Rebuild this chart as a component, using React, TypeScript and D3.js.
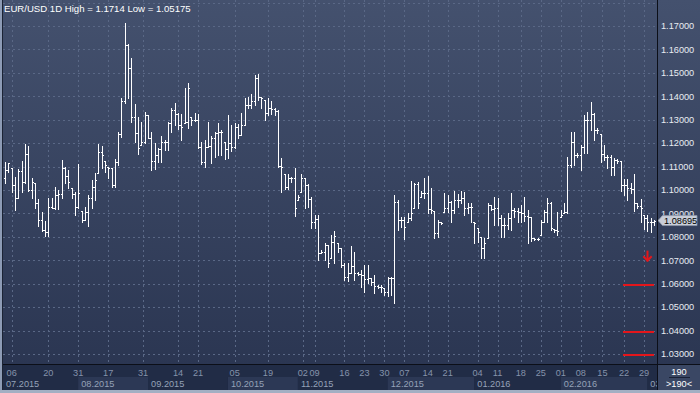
import React from 'react';
import * as d3 from 'd3';

const highs = [
  1.1121, 1.1117, 1.1092, 1.1054, 1.1088, 1.1124, 1.1198, 1.1189, 1.1050, 1.1028,
  1.0962, 1.0907, 1.0868, 1.0964, 1.0967, 1.1014, 1.1000, 1.1128, 1.1100, 1.1085,
  1.1007, 1.0993, 1.1111, 1.0910, 1.0929, 1.0979, 1.1043, 1.1074, 1.1198, 1.1189,
  1.1124, 1.1100, 1.1092, 1.1132, 1.1246, 1.1391, 1.1714, 1.1622, 1.1565, 1.1366,
  1.1313, 1.1289, 1.1334, 1.1320, 1.1246, 1.1202, 1.1181, 1.1232, 1.1213, 1.1292,
  1.1351, 1.1370, 1.1327, 1.1326, 1.1437, 1.1458, 1.1313, 1.1327, 1.1323, 1.1204,
  1.1213, 1.1292, 1.1232, 1.1246, 1.1285, 1.1256, 1.1206, 1.1320, 1.1277, 1.1285,
  1.1280, 1.1327, 1.1391, 1.1398, 1.1408, 1.1491, 1.1494, 1.1398, 1.1384, 1.1391,
  1.1380, 1.1349, 1.1342, 1.1138, 1.1067, 1.1067, 1.1057, 1.1092, 1.0979, 1.1067,
  1.1053, 1.1024, 1.0972, 1.0893, 1.0893, 1.0744, 1.0772, 1.0765, 1.0808, 1.0825,
  1.0772, 1.0751, 1.0687, 1.0687, 1.0761, 1.0737, 1.0651, 1.0658, 1.0680, 1.0680,
  1.0626, 1.0637, 1.0594, 1.0594, 1.0580, 1.0630, 1.0630, 1.0979, 1.0957, 1.0886,
  1.0886, 1.0903, 1.1038, 1.1028, 1.1033, 1.0996, 1.1050, 1.1061, 1.1007, 1.0910,
  1.0872, 1.0865, 1.0986, 1.0979, 1.0953, 1.0996, 1.0981, 1.0996, 1.0993, 1.0943,
  1.0943, 1.0865, 1.0836, 1.0801, 1.0796, 1.0943, 1.0936, 1.0972, 1.0967, 1.0893,
  1.0879, 1.0900, 1.0986, 1.0922, 1.0925, 1.0936, 1.0972, 1.0915, 1.0886, 1.0796,
  1.0794, 1.0872, 1.0915, 1.0964, 1.0950, 1.0834, 1.0907, 1.0915, 1.0943, 1.1142,
  1.1249, 1.1249, 1.1157, 1.1192, 1.1320, 1.1334, 1.1374, 1.1327, 1.1263, 1.1238,
  1.1192, 1.1149, 1.1149, 1.1135, 1.1132, 1.1124, 1.1047, 1.1047, 1.1028, 1.1067,
  1.0943, 1.0962, 1.0893, 1.0893, 1.0879, 1.0872,
];

const lows = [
  1.1028, 1.1078, 1.0990, 1.0915, 1.0967, 1.0990, 1.1028, 1.0996, 1.0964, 1.0925,
  1.0848, 1.0826, 1.0805, 1.0805, 1.0922, 1.0917, 1.0917, 1.0964, 1.1028, 1.1007,
  1.0967, 1.0893, 1.0925, 1.0865, 1.0872, 1.0848, 1.0922, 1.0957, 1.1074, 1.1092,
  1.1078, 1.1053, 1.1014, 1.1014, 1.1107, 1.1228, 1.1370, 1.1394, 1.1289, 1.1204,
  1.1152, 1.1192, 1.1199, 1.1221, 1.1085, 1.1090, 1.1121, 1.1121, 1.1169, 1.1171,
  1.1249, 1.1277, 1.1260, 1.1213, 1.1285, 1.1266, 1.1277, 1.1295, 1.1178, 1.1110,
  1.1100, 1.1185, 1.1114, 1.1142, 1.1149, 1.1149, 1.1132, 1.1138, 1.1166, 1.1178,
  1.1223, 1.1235, 1.1277, 1.1349, 1.1349, 1.1363, 1.1384, 1.1349, 1.1299, 1.1320,
  1.1323, 1.1320, 1.1100, 1.0993, 1.1004, 1.1004, 1.1036, 1.0890, 1.0957, 1.0990,
  1.0925, 1.0929, 1.0839, 1.0836, 1.0701, 1.0730, 1.0701, 1.0673, 1.0708, 1.0687,
  1.0737, 1.0673, 1.0616, 1.0611, 1.0644, 1.0616, 1.0637, 1.0587, 1.0566, 1.0602,
  1.0594, 1.0559, 1.0580, 1.0566, 1.0552, 1.0549, 1.0552, 1.05175, 1.0829, 1.0843,
  1.0791, 1.0865, 1.0872, 1.0922, 1.0922, 1.0972, 1.0964, 1.0900, 1.0900, 1.0796,
  1.0801, 1.0853, 1.0907, 1.0907, 1.0865, 1.0900, 1.0929, 1.0943, 1.0893, 1.0900,
  1.0865, 1.0772, 1.0779, 1.0708, 1.0708, 1.0794, 1.0915, 1.0851, 1.0851, 1.0801,
  1.0801, 1.0834, 1.0829, 1.0886, 1.0862, 1.0862, 1.0868, 1.0772, 1.0782, 1.0786,
  1.0786, 1.0808, 1.0865, 1.0865, 1.0829, 1.0822, 1.0808, 1.0886, 1.0900, 1.0900,
  1.1100, 1.1107, 1.1142, 1.1085, 1.1157, 1.1157, 1.1256, 1.1213, 1.1242, 1.1121,
  1.1128, 1.1095, 1.1064, 1.1064, 1.1114, 1.0996, 1.0979, 1.0957, 1.0986, 1.0910,
  1.0922, 1.0865, 1.0834, 1.0825, 1.0822, 1.0851,
];

const opens = [
  1.1050, 1.1085, 1.1092, 1.1021, 1.0967, 1.1081, 1.1036, 1.1152, 1.0998, 1.1028,
  1.0943, 1.0872, 1.0829, 1.0822, 1.0929, 1.0925, 1.0979, 1.0981, 1.1092, 1.1060,
  1.1007, 1.0983, 1.0929, 1.0910, 1.0872, 1.0907, 1.0964, 1.1014, 1.1074, 1.1161,
  1.1124, 1.1100, 1.1092, 1.1021, 1.1121, 1.1238, 1.1380, 1.1619, 1.1519, 1.1313,
  1.1242, 1.1192, 1.1206, 1.1320, 1.1223, 1.1124, 1.1149, 1.1175, 1.1206, 1.1206,
  1.1285, 1.1342, 1.1323, 1.1277, 1.1285, 1.1292, 1.1313, 1.1299, 1.1297, 1.1185,
  1.1121, 1.1185, 1.1188, 1.1221, 1.1242, 1.1249, 1.1206, 1.1175, 1.1199, 1.1185,
  1.1270, 1.1235, 1.1277, 1.1363, 1.1363, 1.1380, 1.1477, 1.1398, 1.1384, 1.1327,
  1.1349, 1.1346, 1.1337, 1.1104, 1.1067, 1.1014, 1.1050, 1.1050, 1.0957, 1.0990,
  1.1053, 1.1021, 1.0962, 1.0862, 1.0876, 1.0730, 1.0734, 1.0765, 1.0708, 1.0779,
  1.0772, 1.0751, 1.0680, 1.0630, 1.0644, 1.0677, 1.0644, 1.0643, 1.0637, 1.0620,
  1.0623, 1.0609, 1.0592, 1.0587, 1.0580, 1.0563, 1.0626, 1.0623, 1.0950, 1.0872,
  1.0872, 1.0865, 1.0879, 1.0922, 1.1024, 1.0972, 1.0986, 1.0986, 1.0919, 1.0910,
  1.0815, 1.0865, 1.0907, 1.0922, 1.0950, 1.0915, 1.0957, 1.0957, 1.0964, 1.0925,
  1.0929, 1.0865, 1.0836, 1.0801, 1.0751, 1.0794, 1.0936, 1.0919, 1.0922, 1.0879,
  1.0851, 1.0851, 1.0879, 1.0915, 1.0910, 1.0907, 1.0900, 1.0889, 1.0886, 1.0794,
  1.0791, 1.0808, 1.0865, 1.0907, 1.0943, 1.0834, 1.0829, 1.0886, 1.0900, 1.0907,
  1.1107, 1.1206, 1.1149, 1.1149, 1.1185, 1.1299, 1.1299, 1.1323, 1.1256, 1.1238,
  1.1152, 1.1142, 1.1142, 1.1100, 1.1128, 1.1124, 1.1021, 1.1021, 1.1010, 1.1004,
  1.0943, 1.0933, 1.0893, 1.0879, 1.0865, 1.0865,
];

const closes = [
  1.1085, 1.1114, 1.1021, 1.0967, 1.1081, 1.1036, 1.1152, 1.0998, 1.1036, 1.0943,
  1.0872, 1.0829, 1.0822, 1.0929, 1.0925, 1.0979, 1.0981, 1.1092, 1.1060, 1.1036,
  1.0983, 1.0929, 1.0986, 1.0872, 1.0907, 1.0964, 1.1014, 1.1043, 1.1161, 1.1149,
  1.1107, 1.1092, 1.1021, 1.1121, 1.1238, 1.1380, 1.1619, 1.1519, 1.1313, 1.1242,
  1.1181, 1.1206, 1.1320, 1.1223, 1.1124, 1.1149, 1.1175, 1.1206, 1.1206, 1.1285,
  1.1342, 1.1323, 1.1277, 1.1270, 1.1292, 1.1437, 1.1299, 1.1297, 1.1185, 1.1121,
  1.1185, 1.1188, 1.1221, 1.1242, 1.1249, 1.1249, 1.1175, 1.1199, 1.1185, 1.1270,
  1.1235, 1.1277, 1.1363, 1.1363, 1.1380, 1.1477, 1.1398, 1.1391, 1.1327, 1.1349,
  1.1346, 1.1337, 1.1104, 1.1100, 1.1014, 1.1050, 1.1050, 1.0925, 1.0972, 1.1053,
  1.1021, 1.0962, 1.0862, 1.0876, 1.0730, 1.0734, 1.0765, 1.0687, 1.0779, 1.0805,
  1.0751, 1.0680, 1.0630, 1.0644, 1.0677, 1.0644, 1.0643, 1.0637, 1.0620, 1.0623,
  1.0609, 1.0592, 1.0587, 1.0587, 1.0563, 1.0626, 1.0623, 1.0950, 1.0872, 1.0872,
  1.0843, 1.0879, 1.0900, 1.1024, 1.0943, 1.0986, 1.0986, 1.0919, 1.0915, 1.0815,
  1.0865, 1.0858, 1.0922, 1.0950, 1.0915, 1.0957, 1.0957, 1.0964, 1.0925, 1.0929,
  1.0929, 1.0858, 1.0822, 1.0751, 1.0772, 1.0936, 1.0919, 1.0922, 1.0879, 1.0851,
  1.0851, 1.0879, 1.0915, 1.0910, 1.0907, 1.0900, 1.0889, 1.0886, 1.0794, 1.0791,
  1.0791, 1.0865, 1.0907, 1.0943, 1.0836, 1.0829, 1.0825, 1.0893, 1.0907, 1.1107,
  1.1206, 1.1149, 1.1149, 1.1185, 1.1299, 1.1299, 1.1323, 1.1256, 1.1256, 1.1152,
  1.1142, 1.1142, 1.1100, 1.1128, 1.1124, 1.1021, 1.1021, 1.1010, 1.1004, 1.0943,
  1.0933, 1.0922, 1.0879, 1.0865, 1.0865, 1.08695,
];

const priceTicks = [1.03, 1.04, 1.05, 1.06, 1.07, 1.08, 1.09, 1.1, 1.11, 1.12, 1.13, 1.14, 1.15, 1.16, 1.17];
const gridLevels = [1.03, 1.04, 1.05, 1.06, 1.07, 1.08, 1.09, 1.1, 1.11, 1.12, 1.13, 1.14, 1.15, 1.16, 1.17, 1.18];
const dayLabels = ['06', '20', '31', '17', '31', '14', '21', '05', '19', '02', '09', '16', '23', '30', '07', '14', '21', '04', '11', '18', '25', '01', '08', '15', '22', '29'];
const dayIndex = [2, 13, 22, 31, 41.5, 52, 58, 69, 79, 89.5, 93, 102, 108, 114, 120, 127, 133, 142, 148, 155, 161, 167, 173, 179.5, 186, 192];
const monthLabels = ['07.2015', '08.2015', '09.2015', '10.2015', '11.2015', '12.2015', '01.2016', '02.2016', '03.2016'];
const monthStart = [-1, 22, 43, 67, 88, 115, 141, 167, 193];
const title = 'EUR/USD 1D High = 1.1714 Low = 1.05175';
const lastPrice = 1.08695;
const barCount = '190';
const targetLevels = [1.06, 1.04, 1.03];
const arrowFrom = 1.0737;
const arrowTo = 1.0697;

export default function App() {
  const W = 700;
  const H = 393;
  const axisX = 657.5;
  const axisY = 364.5;
  const n = highs.length;
  const x = d3.scaleLinear().domain([0, n - 1]).range([5, 654]);
  const y = d3.scaleLinear().domain([1.03, 1.17]).range([354, 26]);
  const fmt = d3.format('.5f');
  const font = "'Liberation Sans', Arial, sans-serif";
  const yl = y(lastPrice);
  const ya = y(arrowTo);

  const bars = highs.map((h, i) => {
    const xi = Math.round(x(i));
    const yh = Math.round(y(h));
    const ylw = Math.round(y(lows[i]));
    const yo = Math.round(y(opens[i]));
    const yc = Math.round(y(closes[i]));
    return (
      <g key={i}>
        <rect x={xi} y={yh} width={1} height={Math.max(1, ylw - yh + 1)} />
        <rect x={xi - 1} y={yo} width={1} height={1} />
        <rect x={xi + 1} y={yc} width={1} height={1} />
      </g>
    );
  });

  return (
    <svg width={W} height={H} style={{ position: 'absolute', left: 0, top: 0, display: 'block' }} xmlns="http://www.w3.org/2000/svg">
      <defs>
        <linearGradient id="bg" x1="0" y1="0" x2="0" y2="1">
          <stop offset="0" stopColor="#44516e" />
          <stop offset="1" stopColor="#2b3652" />
        </linearGradient>
        <clipPath id="axclip">
          <rect x={2} y={365} width={axisX - 2} height={25} />
        </clipPath>
        <clipPath id="plotclip">
          <rect x={2} y={0} width={axisX - 2} height={axisY} />
        </clipPath>
      </defs>
      <rect x={0} y={0} width={W} height={axisY} fill="url(#bg)" />
      <g clipPath="url(#plotclip)" stroke="#5a6886" strokeWidth={1} strokeDasharray="2,3" shapeRendering="crispEdges">
        {gridLevels.map((v) => (
          <line key={v} x1={3} x2={axisX} y1={Math.round(y(v)) + 0.5} y2={Math.round(y(v)) + 0.5} />
        ))}
        {dayIndex.map((d, i) => (
          <line key={i} x1={Math.round(x(d)) + 0.5} x2={Math.round(x(d)) + 0.5} y1={0} y2={axisY} />
        ))}
      </g>
      <g fill="#ffffff" shapeRendering="crispEdges">{bars}</g>
      <g fill="#e3161b" stroke="none">
        {targetLevels.map((v) => (
          <rect key={v} x={623} y={Math.round(y(v))} width={31} height={2} />
        ))}
      </g>
      <g stroke="#e3161b" strokeWidth={2} fill="none" strokeLinecap="square">
        <line x1={647.5} x2={647.5} y1={y(arrowFrom)} y2={ya - 0.5} />
        <polyline points={`644,${ya - 4} 647.5,${ya - 0.5} 651,${ya - 4}`} />
      </g>
      <text x={4} y={12} fill="#ffffff" fontFamily={font} fontSize={9.6}>{title}</text>
      <g fontFamily={font} fontSize={9.2} fill="#e8ecf2">
        {priceTicks.map((v) => (
          <text key={v} x={661} y={y(v) + 3.3}>{fmt(v)}</text>
        ))}
      </g>
      <polygon
        points={`658,${yl} 662.5,${yl - 5} 697,${yl - 5} 697,${yl + 5} 662.5,${yl + 5}`}
        fill="#c9ced8"
        stroke="#8e97a8"
        strokeWidth={0.8}
      />
      <text x={664} y={yl + 3.4} fontFamily={font} fontSize={9.2} fill="#000000">{fmt(lastPrice)}</text>
      <rect x={2} y={365} width={axisX - 2} height={25} fill="#212c46" />
      <g clipPath="url(#axclip)">
        {monthStart.map((m, i) => {
          const x0 = i === 0 ? 2 : x(m);
          const x1 = i < monthStart.length - 1 ? x(monthStart[i + 1]) : axisX;
          return (
            <g key={i}>
              <rect x={x0} y={377} width={x1 - x0} height={13} fill={i % 2 === 1 ? '#2c3855' : '#212c46'} />
              <text x={i === 0 ? 6 : x0 + 3} y={387} fontFamily={font} fontSize={9.2} fill="#95a2b8">{monthLabels[i]}</text>
            </g>
          );
        })}
        {dayIndex.map((d, i) => (
          <text key={i} x={x(d)} y={376} textAnchor="middle" fontFamily={font} fontSize={9.2} fill="#8593ab">{dayLabels[i]}</text>
        ))}
      </g>
      <rect x={axisX + 0.5} y={365} width={W - axisX} height={25} fill="#3a4764" />
      <text x={679} y={375} textAnchor="middle" fontFamily={font} fontSize={9.2} fill="#ffffff">{barCount}</text>
      <line x1={669} x2={690} y1={377.5} y2={377.5} stroke="#1a2237" strokeWidth={1} />
      <text x={679} y={387} textAnchor="middle" fontFamily={font} fontSize={9.2} fill="#ffffff">{`>${barCount}<`}</text>
      <line x1={0} x2={W} y1={axisY} y2={axisY} stroke="#0c0f18" strokeWidth={1} />
      <line x1={axisX} x2={axisX} y1={0} y2={390} stroke="#0c0f18" strokeWidth={1} />
      <rect x={0} y={0} width={2} height={H} fill="#8d9bb5" />
      <line x1={2.5} x2={2.5} y1={0} y2={390} stroke="#1b2334" strokeWidth={1} />
      <rect x={0} y={390} width={W} height={3} fill="#a3afc3" />
    </svg>
  );
}
